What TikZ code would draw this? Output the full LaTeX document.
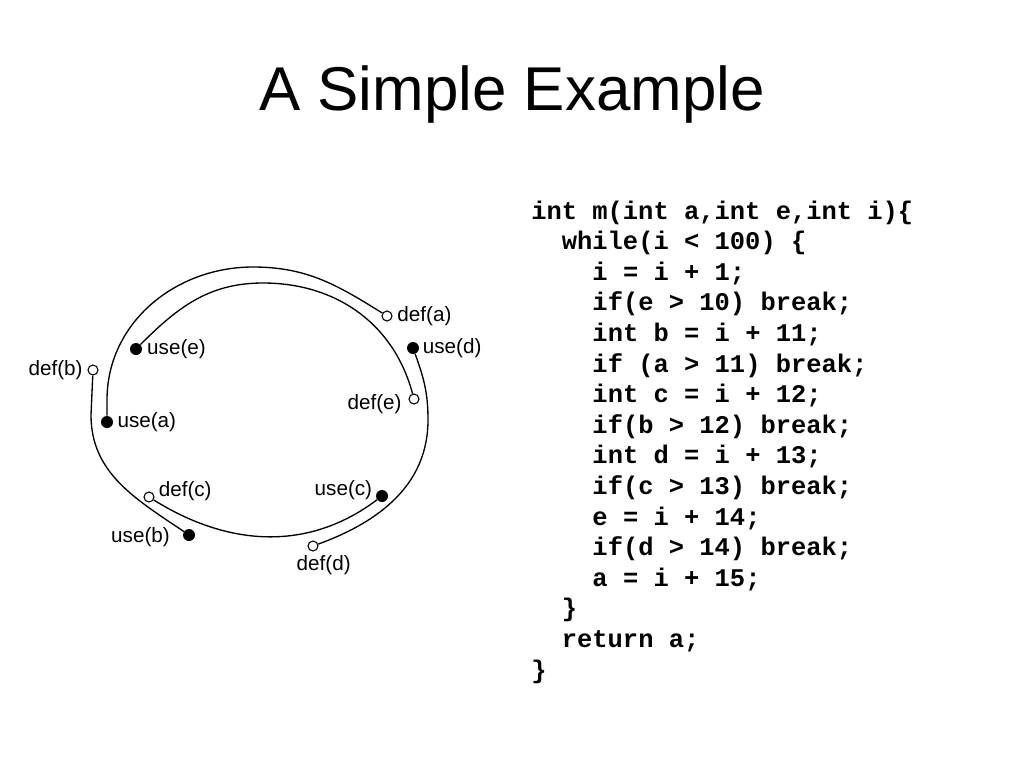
\documentclass[tikz,border=0pt]{standalone}
\usepackage{fontspec}
\setmainfont{Liberation Sans}
\newfontfamily\codefont{Liberation Mono}
\usetikzlibrary{positioning}

\begin{document}
\begin{tikzpicture}[
  x=0.75pt, y=-0.75pt,
  every node/.style={font=\fontsize{15.5}{18}\selectfont},
  defpt/.style={circle, draw, fill=white, line width=0.8pt, minimum size=7.5pt, inner sep=0pt},
  usept/.style={circle, fill=black, minimum size=9pt, inner sep=0pt},
  varlbl/.style={inner sep=0.5pt},
  live/.style={line width=1pt},
  codeline/.style={anchor=base west, inner sep=0pt, font=\codefont\bfseries\fontsize{19.1}{23}\selectfont},
]
\useasboundingbox (0,0) rectangle (1024,768);
\node[font=\fontsize{46.4}{50}\selectfont, anchor=base, inner sep=0pt] (title) at (512,110) {A Simple Example};

% definitions and uses
\node[defpt] (da) at (387,316) {};
\node[usept] (ue) at (136,349) {};
\node[usept] (ud) at (413,348) {};
\node[defpt] (db) at (93,370) {};
\node[defpt] (de) at (414,399) {};
\node[usept] (ua) at (107,422) {};
\node[defpt] (dc) at (149,497) {};
\node[usept] (uc) at (382,496) {};
\node[usept] (ub) at (189,535) {};
\node[defpt] (dd) at (313,546) {};

\node[varlbl, right=3pt of da] (da-t) {def(a)};
\node[varlbl, right=3pt of ue] (ue-t) {use(e)};
\node[varlbl, right=2pt of ud] (ud-t) {use(d)};
\node[varlbl, left=3pt of db] (db-t) {def(b)};
\node[varlbl, left=4.5pt of de, yshift=-4pt] (de-t) {def(e)};
\node[varlbl, right=2.5pt of ua] (ua-t) {use(a)};
\node[varlbl, right=2.5pt of dc, yshift=4.5pt] (dc-t) {def(c)};
\node[varlbl, left=2pt of uc, yshift=4.5pt] (uc-t) {use(c)};
\node[varlbl, left=9pt of ub, yshift=-1.5pt] (ub-t) {use(b)};
\node[varlbl, below=2pt of dd, xshift=8pt] (dd-t) {def(d)};

% live ranges
\coordinate (a-top) at (253,267);
\coordinate (a-left) at (107,400);
\coordinate (b-left) at (91,415);
\coordinate (d-right) at (428,420);
\coordinate (e-top) at (263,283);
\draw[live] (da) to[out=148,in=0] (a-top) to[out=180,in=90] (a-left) -- (ua);
\draw[live] (db) -- (b-left) to[out=-90,in=146] (ub);
\draw[live] (dc) to[out=-32,in=-143] (uc);
\draw[live] (dd) to[out=20,in=-90] (d-right) to[out=90,in=-70] (ud);
\draw[live] (de) to[out=105,in=0] (e-top) to[out=180,in=45] (ue);

% code
\node[codeline] (ln1) at (531,219) {int m(int a,int e,int i)\{};
\node[codeline] (ln2) at (561.6,249.6) {while(i < 100) \{};
\node[codeline] (ln3) at (592.2,280.2) {i = i + 1;};
\node[codeline] (ln4) at (592.2,310.8) {if(e > 10) break;};
\node[codeline] (ln5) at (592.2,341.4) {int b = i + 11;};
\node[codeline] (ln6) at (592.2,372) {if (a > 11) break;};
\node[codeline] (ln7) at (592.2,402.6) {int c = i + 12;};
\node[codeline] (ln8) at (592.2,433.2) {if(b > 12) break;};
\node[codeline] (ln9) at (592.2,463.8) {int d = i + 13;};
\node[codeline] (ln10) at (592.2,494.4) {if(c > 13) break;};
\node[codeline] (ln11) at (592.2,525) {e = i + 14;};
\node[codeline] (ln12) at (592.2,555.6) {if(d > 14) break;};
\node[codeline] (ln13) at (592.2,586.2) {a = i + 15;};
\node[codeline] (ln14) at (561.6,616.8) {\}};
\node[codeline] (ln15) at (561.6,647.4) {return a;};
\node[codeline] (ln16) at (531,678) {\}};
\end{tikzpicture}
\end{document}
